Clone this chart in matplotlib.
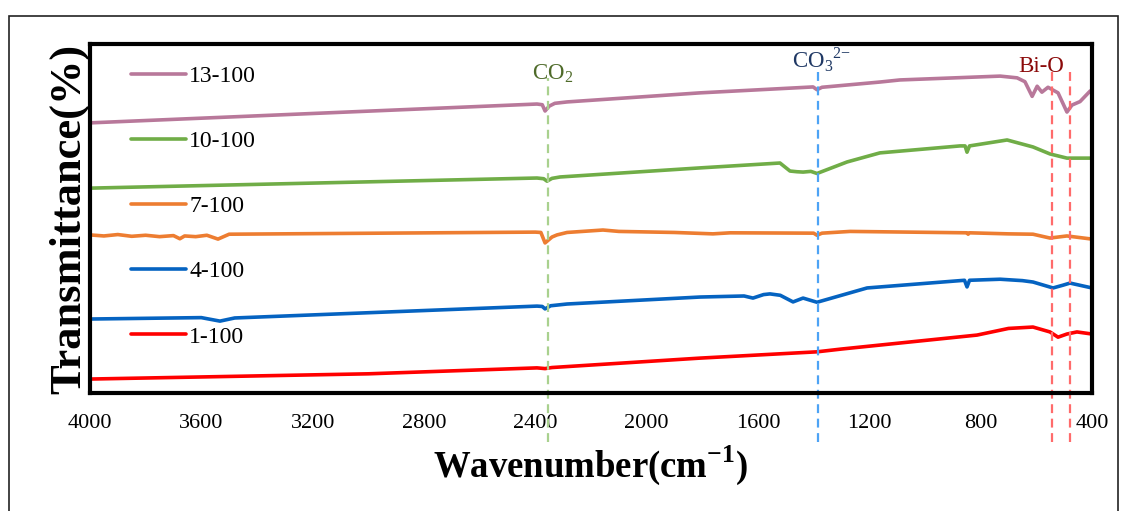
import numpy as np
import matplotlib.pyplot as plt
from matplotlib.patches import Rectangle

plt.rcParams['font.family'] = ['Liberation Serif', 'DejaVu Serif']
plt.rcParams['mathtext.fontset'] = 'custom'
plt.rcParams['mathtext.rm'] = 'Liberation Serif'
plt.rcParams['mathtext.bf'] = 'Liberation Serif:bold'

# FTIR spectra, wavenumber (cm-1) vs transmittance (offset, arbitrary units)
wn_13 = [4000, 2394, 2375, 2365, 2350, 2330, 2286, 1808, 1402, 1388, 1370, 1162, 1090,
         730, 669, 641, 615, 597, 580, 558, 522, 490, 472, 443, 407, 400]
t_13 = [77.4, 82.8, 82.6, 80.8, 82.2, 83.0, 83.4, 86.0, 87.7, 86.9, 87.6, 89.1, 89.7,
        90.8, 90.3, 89.2, 85.0, 87.9, 86.2, 87.6, 86.0, 80.5, 82.5, 83.5, 86.5, 86.8]

wn_10 = [4000, 2394, 2370, 2358, 2340, 2311, 1808, 1582, 1521, 1485, 1460, 1438, 1410,
         1388, 1280, 1162, 874, 856, 849, 840, 705, 612, 551, 490, 400]
t_10 = [58.7, 61.6, 61.4, 60.7, 61.5, 61.9, 64.5, 65.6, 65.9, 63.6, 63.4, 63.3, 63.5,
        62.9, 66.2, 68.8, 70.8, 70.8, 69.0, 70.8, 72.5, 70.5, 68.5, 67.3, 67.3]

wn_7 = [4000, 3950, 3900, 3850, 3800, 3750, 3700, 3677, 3660, 3620, 3580, 3540, 3500,
        2400, 2380, 2365, 2340, 2322, 2286, 2157, 2100, 1900, 1762, 1700, 1400, 1388,
        1370, 1269, 849, 845, 840, 700, 612, 551, 490, 400]
t_7 = [45.3, 45.0, 45.4, 44.9, 45.2, 44.8, 45.1, 44.2, 45.0, 44.8, 45.2, 44.1, 45.5,
       46.1, 46.0, 43.0, 44.7, 45.3, 46.0, 46.7, 46.3, 46.0, 45.6, 45.9, 45.8, 45.2,
       45.8, 46.3, 45.9, 45.5, 45.9, 45.6, 45.5, 44.4, 45.0, 44.1]

wn_4 = [4000, 3600, 3533, 3480, 2394, 2375, 2365, 2345, 2286, 1808, 1650, 1618, 1580,
        1557, 1520, 1474, 1438, 1388, 1208, 858, 849, 840, 730, 650, 612, 540, 504, 479, 400]
t_4 = [21.2, 21.6, 20.6, 21.5, 24.9, 24.8, 24.1, 25.0, 25.5, 27.5, 27.8, 27.2, 28.2,
       28.4, 28.0, 26.1, 27.2, 26.0, 30.1, 32.3, 30.4, 32.3, 32.6, 32.2, 31.8, 30.1, 30.9, 31.5, 30.1]

wn_1 = [4000, 3000, 2394, 2365, 2340, 1808, 1388, 1300, 813, 700, 612, 551, 522, 490, 454, 400]
t_1 = [4.0, 5.5, 7.2, 7.0, 7.3, 10.0, 11.8, 12.6, 16.6, 18.5, 18.9, 17.5, 16.0, 16.9, 17.5, 16.9]

labels = ['13-100', '10-100', '7-100', '4-100', '1-100']
colors = ['#b8789a', '#70ad47', '#ed7d31', '#0563c1', '#ff0000']
spectra = [(wn_13, t_13), (wn_10, t_10), (wn_7, t_7), (wn_4, t_4), (wn_1, t_1)]

# band positions marked with dashed lines
co2_pos = 2354
co3_pos = 1384
bio_pos = [543, 479]

fig = plt.figure(figsize=(11.26, 5.11), dpi=100)
ax = fig.add_axes([0.0799, 0.2309, 0.8899, 0.683])

handles = []
for (x, y), lab, c in zip(spectra, labels, colors):
    h, = ax.plot(x, y, color=c, lw=2.6, label=lab, solid_capstyle='round')
    handles.append(h)

dash = (0, (4, 2.5))
ax.vlines(co2_pos, -14, 90.3, colors='#a9d18e', linestyles=dash, lw=1.6, clip_on=False)
ax.vlines(co3_pos, -14, 92.5, colors='#4da3f5', linestyles=dash, lw=1.6, clip_on=False)
ax.vlines(bio_pos, -14, 93.1, colors='#ff6b6b', linestyles=dash, lw=1.6, clip_on=False)

ax.text(2412, 90.0, 'CO$_2$', color='#4f6b2a', fontsize=16.5, ha='left', va='baseline')
ax.text(1478, 93.1, 'CO$_3$$^{2{-}}$', color='#1f3864', fontsize=16.5, ha='left', va='baseline')
ax.text(666, 92.0, 'Bi-O', color='#8b0a0a', fontsize=16.5, ha='left', va='baseline')

ax.set_xlim(4000, 400)
ax.set_ylim(0, 100)
ax.set_xticks([4000, 3600, 3200, 2800, 2400, 2000, 1600, 1200, 800, 400])
ax.set_yticks([])
ax.tick_params(axis='x', length=0, pad=15, labelsize=16)
for s in ax.spines.values():
    s.set_linewidth(3)

ax.set_xlabel(r'Wavenumber(cm$^{\mathbf{-1}}$)', fontsize=26.5, fontweight='bold', labelpad=8)
ax.set_ylabel('Transmittance(%)', fontsize=32, fontweight='bold', labelpad=0.5)

ax.legend(handles=handles, loc='upper left', bbox_to_anchor=(0.02, 1.0), frameon=False,
          fontsize=17, handlelength=2.3, handletextpad=0.15, labelspacing=1.85)

fig.patches.append(Rectangle((9 / 1126, -0.02), 1109 / 1126, 1.02 - 16 / 511,
                             transform=fig.transFigure, fill=False, ec='#222222', lw=1.2))

fig.savefig('out.png', dpi=100)
